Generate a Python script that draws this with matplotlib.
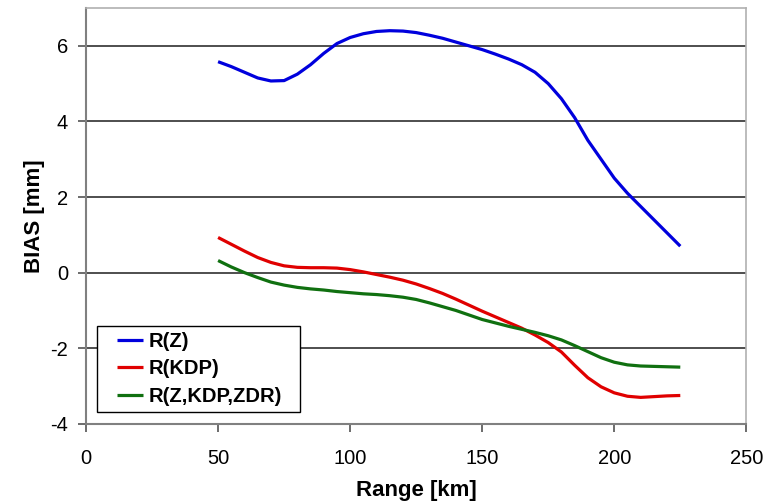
import matplotlib
matplotlib.use("Agg")
import matplotlib.pyplot as plt
from matplotlib.legend_handler import HandlerLine2D

plt.rcParams['font.family'] = ['Liberation Sans', 'DejaVu Sans']
plt.rcParams['axes.unicode_minus'] = False

range_km = [50, 55, 60, 65, 70, 75, 80, 85, 90, 95, 100, 105, 110, 115, 120, 125,
            130, 135, 140, 145, 150, 155, 160, 165, 170, 175, 180, 185, 190, 195,
            200, 205, 210, 215, 220, 225]
bias_rz = [5.58, 5.45, 5.30, 5.15, 5.07, 5.08, 5.25, 5.50, 5.80, 6.06, 6.22, 6.32,
           6.38, 6.40, 6.39, 6.35, 6.28, 6.20, 6.10, 6.00, 5.90, 5.78, 5.65, 5.50,
           5.30, 5.00, 4.60, 4.10, 3.50, 3.00, 2.50, 2.10, 1.75, 1.40, 1.05, 0.70]
bias_rkdp = [0.93, 0.75, 0.57, 0.40, 0.27, 0.18, 0.14, 0.13, 0.13, 0.12, 0.08, 0.02,
             -0.05, -0.12, -0.20, -0.30, -0.42, -0.55, -0.70, -0.86, -1.02, -1.17,
             -1.32, -1.47, -1.65, -1.85, -2.10, -2.45, -2.78, -3.02, -3.18, -3.27,
             -3.30, -3.28, -3.26, -3.25]
bias_rzkz = [0.32, 0.15, 0.00, -0.13, -0.25, -0.33, -0.39, -0.43, -0.46, -0.50,
             -0.53, -0.56, -0.58, -0.61, -0.65, -0.71, -0.80, -0.90, -1.00, -1.12,
             -1.24, -1.33, -1.42, -1.50, -1.58, -1.67, -1.78, -1.93, -2.09, -2.25,
             -2.37, -2.44, -2.47, -2.48, -2.49, -2.50]
labels = ['R(Z)', 'R(KDP)', 'R(Z,KDP,ZDR)']
colors = ['#0000dd', '#e00000', '#107010']
xticks = [0, 50, 100, 150, 200, 250]
yticks = [-4, -2, 0, 2, 4, 6]

fig = plt.figure(figsize=(7.75, 5.01), dpi=100)
ax = fig.add_axes([0.111, 0.154, 0.852, 0.830])

lines = []
for s, lab, c in zip([bias_rz, bias_rkdp, bias_rzkz], labels, colors):
    ln, = ax.plot(range_km, s, color=c, lw=2.3, label=lab, solid_capstyle='butt')
    lines.append(ln)

ax.set_xlim(0, 250)
ax.set_ylim(-4, 7)
ax.set_xticks(xticks)
ax.set_yticks(yticks)
ax.yaxis.grid(True, color='#404040', lw=1.3)
ax.set_axisbelow(True)
for sp in ['top', 'right']:
    ax.spines[sp].set_color('#b0b0b0')
    ax.spines[sp].set_linewidth(1.2)
for sp in ['left', 'bottom']:
    ax.spines[sp].set_color('#808080')
    ax.spines[sp].set_linewidth(1.5)
ax.tick_params(axis='both', direction='out', length=6, width=1.3, color='#606060',
               labelsize=14.5)
ax.tick_params(axis='x', pad=12)
ax.tick_params(axis='y', pad=7)
ax.set_xlabel('Range [km]', fontsize=16, fontweight='bold', labelpad=9)
ax.set_ylabel('BIAS [mm]', fontsize=16, fontweight='bold', labelpad=4)

hm = {ln: HandlerLine2D(xpad=0.7) for ln in lines}
leg = ax.legend(handles=lines, loc='lower left', mode='expand',
                bbox_to_anchor=(0.0167, 0.0288, 0.3076, 0.0),
                prop={'weight': 'bold', 'size': 14.5}, frameon=True, fancybox=False,
                edgecolor='black', framealpha=1, handlelength=2.0, borderpad=0.3,
                labelspacing=0.42, handletextpad=0.25, borderaxespad=0,
                handler_map=hm)
leg.get_frame().set_linewidth(1.0)

fig.savefig('out.png', dpi=100)
